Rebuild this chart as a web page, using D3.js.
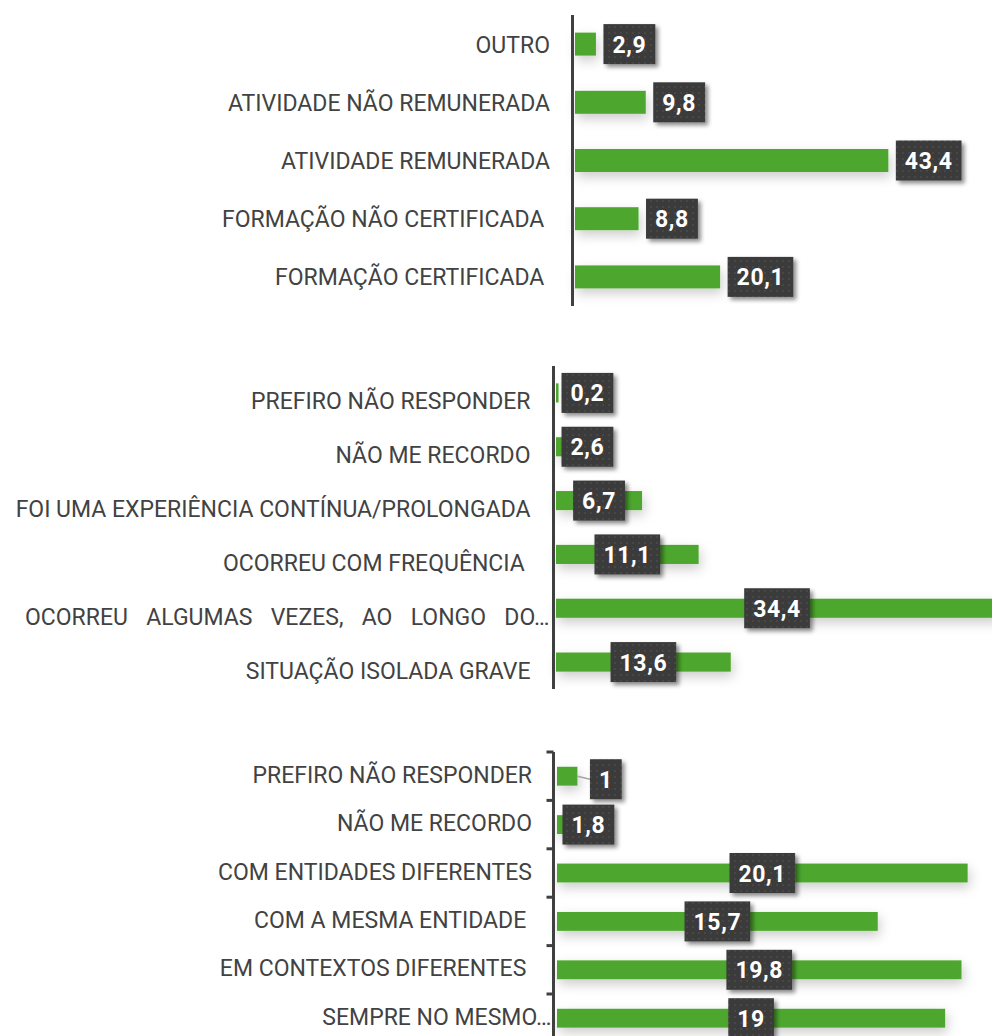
<!DOCTYPE html>
<html><head><meta charset="utf-8">
<script src="https://cdn.jsdelivr.net/npm/d3@7"></script>
<style>
html,body{margin:0;padding:0;background:#fff;}
svg{display:block;}
.cat{font-family:Roboto,"Liberation Sans",sans-serif;font-size:23px;fill:#424242;white-space:pre;}
.val{font-family:Roboto,"Liberation Sans",sans-serif;font-size:23px;font-weight:700;fill:#fff;letter-spacing:0.6px;}
</style></head>
<body>
<svg id="chart" width="992" height="1036"></svg>
<script>
// ---- data ----
const cats1 = ["OUTRO", "ATIVIDADE NÃO REMUNERADA", "ATIVIDADE REMUNERADA", "FORMAÇÃO NÃO CERTIFICADA ", "FORMAÇÃO CERTIFICADA "];
const vals1 = [2.9, 9.8, 43.4, 8.8, 20.1];

const cats2 = ["PREFIRO NÃO RESPONDER", "NÃO ME RECORDO", "FOI UMA EXPERIÊNCIA CONTÍNUA/PROLONGADA", "OCORREU COM FREQUÊNCIA ", "OCORREU ALGUMAS VEZES, AO LONGO DO…", "SITUAÇÃO ISOLADA GRAVE"];
const vals2 = [0.2, 2.6, 6.7, 11.1, 34.4, 13.6];

const cats3 = ["PREFIRO NÃO RESPONDER", "NÃO ME RECORDO", "COM ENTIDADES DIFERENTES", "COM A MESMA ENTIDADE ", "EM CONTEXTOS DIFERENTES ", "SEMPRE NO MESMO…"];
const vals3 = [1, 1.8, 20.1, 15.7, 19.8, 19];

// ---- drawing ----
const svg = d3.select("#chart");
const defs = svg.append("defs");
const pat = defs.append("pattern").attr("id","dots").attr("width",6).attr("height",6).attr("patternUnits","userSpaceOnUse");
pat.append("rect").attr("width",6).attr("height",6).attr("fill","#3a3a3a");
pat.append("circle").attr("cx",3).attr("cy",3).attr("r",0.8).attr("fill","#555");
const fb = defs.append("filter").attr("id","barShadow").attr("x","-10%").attr("y","-100%").attr("width","130%").attr("height","400%");
fb.append("feDropShadow").attr("dx",2).attr("dy",5).attr("stdDeviation",6).attr("flood-color","#000").attr("flood-opacity",0.2);
const fl = defs.append("filter").attr("id","boxShadow").attr("x","-20%").attr("y","-20%").attr("width","150%").attr("height","160%");
fl.append("feDropShadow").attr("dx",3).attr("dy",3).attr("stdDeviation",2).attr("flood-color","#000").attr("flood-opacity",0.45);

const fmt = v => String(v).replace(".", ",");
const GREEN = "#4ea72e";

function panel(cfg){
  const {cats, vals, xDomain, xRange, yRange, barFrac, axisX, labelGap, labelDy, valMode, ticks, axisBottom, truncEnd, shifts} = cfg;
  const g = svg.append("g");
  const x = d3.scaleLinear().domain(xDomain).range(xRange);
  const y = d3.scaleBand().domain(cats.map((c,i)=>i)).range(yRange).padding(0);
  const bh = y.bandwidth()*barFrac;
  const cy = i => y(i) + y.bandwidth()/2;

  // bars
  g.append("g").attr("filter","url(#barShadow)")
    .selectAll("rect").data(vals).join("rect")
    .attr("x", x(0)).attr("y",(d,i)=>cy(i)-bh/2)
    .attr("width", d=>x(d)-x(0)).attr("height", bh)
    .attr("fill", GREEN);

  // axis line
  g.append("line").attr("x1",axisX).attr("x2",axisX)
    .attr("y1",yRange[0]).attr("y2",axisBottom)
    .attr("stroke","#404040").attr("stroke-width",3);
  if (ticks) {
    const b = d3.range(cats.length+1).map(i => yRange[0] + i*y.step());
    g.selectAll("line.tk").data(b).join("line").attr("class","tk")
      .attr("x1",axisX-7).attr("x2",axisX).attr("y1",d=>d).attr("y2",d=>d)
      .attr("stroke","#404040").attr("stroke-width",3);
  }

  // category labels
  g.selectAll("text.cat").data(cats).join("text").attr("class","cat")
    .attr("x",(d)=> d.endsWith("…") ? axisX - truncEnd : axisX - labelGap)
    .attr("y",(d,i)=>cy(i)+labelDy)
    .attr("text-anchor","end").attr("dominant-baseline","central")
    .text(d=>d)
    .each(function(d){
      if (cfg.spread && d === cfg.spread.text) {
        const w = this.getComputedTextLength();
        const n = (d.match(/ /g)||[]).length;
        const target = (axisX - truncEnd) - cfg.spread.start;
        d3.select(this).style("word-spacing", ((target - w)/n) + "px");
      }
    });

  // value labels
  const lg = g.append("g");
  vals.forEach((v,i)=>{
    const t = lg.append("text").attr("class","val").text(fmt(v))
      .attr("text-anchor","middle").attr("dominant-baseline","central");
    const tw = t.node().getComputedTextLength();
    const bw = tw + 18, bhx = 40;
    let left;
    if (valMode === "end") left = x(v) + 7.5;
    else {
      left = (x(0)+x(v))/2 - bw/2;
      left = Math.max(left, x(0)+5.5);
    }
    let cyy = cy(i);
    const sh = shifts && shifts[i];
    if (sh) {
      left = x(v) + sh[0];
      cyy += sh[1];
      lg.insert("line","text").attr("x1",x(v)).attr("y1",cy(i)).attr("x2",left).attr("y2",cyy)
        .attr("stroke","#a6a6a6").attr("stroke-width",1.5);
    }
    lg.insert("rect","text").attr("x",left).attr("y",cyy-bhx/2).attr("width",bw).attr("height",bhx)
      .attr("fill","url(#dots)").attr("filter","url(#boxShadow)");
    t.attr("x",left+bw/2).attr("y",cyy+1).raise();
  });
}

panel({cats:cats1, vals:vals1, xDomain:[0,50], xRange:[575,936], yRange:[15,306], barFrac:0.395,
  axisX:572.5, labelGap:22.5, labelDy:1, valMode:"end", ticks:false, axisBottom:306, truncEnd:4});

panel({cats:cats2, vals:vals2, xDomain:[0,35], xRange:[556,1005.75], yRange:[366,689], barFrac:0.355,
  axisX:553.5, labelGap:23, labelDy:9, valMode:"mid", ticks:false, axisBottom:689, truncEnd:4,
  spread:{text:"OCORREU ALGUMAS VEZES, AO LONGO DO…", start:25}});

panel({cats:cats3, vals:vals3, xDomain:[0,20], xRange:[557,965.6], yRange:[752,1042.4], barFrac:0.39,
  axisX:553.5, labelGap:21.5, labelDy:-1, valMode:"mid", ticks:true, axisBottom:1040, truncEnd:2,
  shifts:{0:[12.5,3]}});
</script>
</body></html>
